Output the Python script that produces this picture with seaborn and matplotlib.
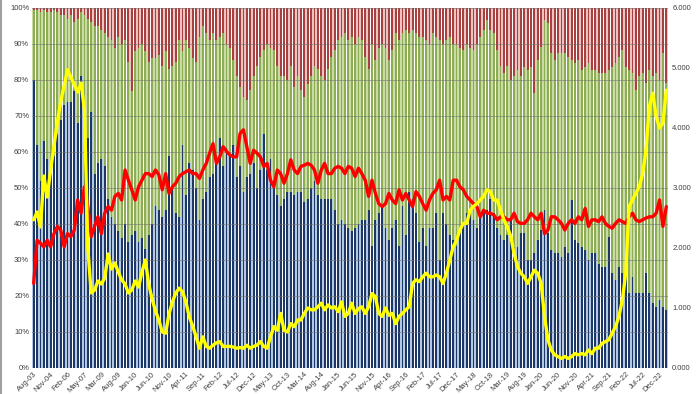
import numpy as np
import pandas as pd
import matplotlib
matplotlib.use("Agg")
import matplotlib.pyplot as plt
from matplotlib.lines import Line2D
import seaborn as sns

# ---------------- data ----------------
# share of the bottom (blue) segment, % of total
blue_pct = [80, 62, 52, 63, 58, 54, 59, 65, 69, 73, 74, 74, 77, 68, 81, 62, 64, 71, 54, 57,
            58, 56, 47, 42, 40, 38, 36, 40, 35, 37, 38, 35, 36, 33, 37, 40, 45, 44, 42, 44,
            59, 50, 43, 42, 62, 48, 57, 55,
            50, 41, 47, 49, 53, 54, 59, 64, 56, 61, 59, 62, 53, 56, 49, 53, 54, 57, 50, 55,
            65, 55, 58, 52, 48, 45, 47, 49, 49, 48, 49, 49, 46, 47, 50, 52, 48, 47, 47, 47,
            47, 44, 40, 41, 40, 39, 38, 39,
            40, 41, 41, 44, 34, 41, 43, 45, 39, 35.5, 39, 41, 34, 45, 37, 49, 47, 43, 35, 39,
            34, 39, 39, 43, 30, 43, 40, 37, 35.5, 34, 38, 40, 43, 43, 41, 39, 42, 43, 44, 47,
            43, 39, 37, 35.5, 37,
            41, 33.7, 33.7, 37.4, 37.4, 30, 30, 31.9, 35.5, 38.3, 43.9, 37.4, 32.8, 31.9, 31.9,
            30.9, 33.7, 31.9, 46.7, 35.5, 34.6, 33.7, 32.8, 30, 31.9, 31.9, 29, 28, 28, 36.5,
            26.3, 24.4, 28, 26.3, 28, 20.7, 25.4, 20.7, 20.7, 20.7, 26.3, 20.7, 18, 17, 18.9,
            17, 16]

# share of the top (red) segment, % of total
red_pct = [0.5, 0.5, 1, 0.5, 1, 1, 0.5, 1, 2, 2, 3, 2, 4, 3, 1, 2, 3, 4, 5, 5,
           6, 7, 8, 9, 11, 8, 10, 9, 15, 23, 12, 11, 10, 12, 15, 14, 14, 13, 16, 12,
           17, 16, 15, 9, 12, 9, 11, 14,
           15, 8, 5, 7, 9, 7, 9, 8, 7, 10, 11, 14.5, 19, 22, 24.6, 25.5, 22.8, 19, 16, 13.5,
           11.7, 10, 11, 11.7, 16, 19, 19, 20, 16, 22, 19, 22.8, 24.6, 21, 19, 16, 17, 19, 20, 17,
           13.5, 11.7, 9, 8, 7, 9, 8, 10,
           8, 9, 13.5, 17, 10, 14.5, 11, 10, 11, 14.5, 11.7, 7, 9, 7, 6, 7, 6, 7, 8, 8,
           9, 10, 7, 8, 9, 10, 9, 8, 10, 10, 11, 11.7, 10, 11, 11.7, 10, 8, 6, 3.3, 6,
           7, 11.7, 16, 18, 16,
           20, 19, 17.2, 19, 16.3, 17.2, 16.3, 23.7, 14.4, 10.7, 3.3, 4.3, 12.6, 14.4, 12.6,
           12.6, 12.6, 13.5, 14.4, 15.4, 14.4, 17.2, 16.3, 15.4, 17.2, 17.2, 18.1, 18.1, 18.1, 17.2,
           16.3, 15.4, 13.5, 11.7, 16.3, 17.2, 18.1, 22.8, 19, 18.1, 20.9, 17.2, 19, 18.1, 20,
           12.6, 20.9]

# yellow line (right axis)
yellow_line = [2.47, 2.6, 2.35, 3.2, 2.85, 3.3, 3.7, 4.1, 4.45, 4.7, 4.97, 4.85, 4.72, 4.6, 4.75,
               4.3, 2.0, 1.25, 1.3, 1.45, 1.4, 1.5, 1.9, 1.65, 1.75, 1.6, 1.47, 1.4, 1.25, 1.3,
               1.45, 1.35, 1.6, 1.8, 1.4, 1.15, 0.95, 0.8, 0.6, 0.58, 0.9, 1.1, 1.25, 1.33, 1.27,
               1.1, 0.85, 0.7,
               0.52, 0.33, 0.52, 0.36, 0.33, 0.38, 0.42, 0.44, 0.36, 0.36, 0.36, 0.35, 0.33, 0.34,
               0.33, 0.38, 0.33, 0.36, 0.38, 0.44, 0.36, 0.33, 0.52, 0.69, 0.63, 0.91, 0.63, 0.6,
               0.74, 0.69, 0.8, 0.8, 0.91, 1.0, 0.97, 0.97, 1.02, 1.08, 0.97, 1.05, 1.0, 1.02,
               0.94, 1.1, 0.86, 0.91, 1.08, 0.91,
               0.99, 1.02, 0.91, 1.02, 1.24, 1.19, 0.91, 0.86, 1.0, 0.88, 0.91, 0.74, 0.86, 0.91,
               0.97, 1.02, 1.41, 1.47, 1.44, 1.52, 1.58, 1.52, 1.52, 1.55, 1.52, 1.41, 1.58, 1.8,
               2.02, 2.13, 2.3, 2.41, 2.41, 2.63, 2.69, 2.74, 2.8, 2.86, 2.97, 2.94, 2.8, 2.8,
               2.63, 2.47, 2.35,
               2.2, 1.91, 1.69, 1.58, 1.52, 1.41, 1.52, 1.63, 1.58, 1.41, 0.86, 0.47, 0.3, 0.22,
               0.19, 0.16, 0.19, 0.16, 0.19, 0.24, 0.22, 0.24, 0.22, 0.3, 0.24, 0.33, 0.33, 0.41,
               0.44, 0.47, 0.58, 0.69, 0.86, 1.13, 1.58, 2.69, 2.8, 2.91, 3.02, 3.24, 3.63, 4.36,
               4.58, 4.19, 4.0, 4.08, 4.63]

# red line (right axis)
red_line = [1.41, 2.13, 2.08, 2.02, 2.13, 2.02, 2.24, 2.36, 2.3, 2.02, 2.24, 2.19, 2.3, 2.8, 2.58,
            3.02, 2.69, 2.19, 2.36, 2.52, 2.24, 2.58, 2.69, 2.63, 2.86, 2.91, 2.8, 3.3, 3.13, 2.97,
            2.8, 3.02, 3.13, 3.24, 3.24, 3.19, 3.3, 3.22, 2.97, 3.24, 2.91, 3.02, 3.08, 3.19, 3.24,
            3.27, 3.3, 3.24,
            3.24, 3.16, 3.3, 3.41, 3.58, 3.74, 3.41, 3.52, 3.69, 3.61, 3.55, 3.52, 3.52, 3.91, 3.97,
            3.69, 3.41, 3.63, 3.58, 3.52, 3.36, 3.41, 3.13, 3.02, 3.3, 3.24, 3.08, 3.24, 3.47, 3.3,
            3.24, 3.36, 3.38, 3.41, 3.38, 3.3, 3.08, 3.3, 3.41, 3.24, 3.24, 3.33, 3.36, 3.33, 3.24,
            3.36, 3.33, 3.19,
            3.33, 3.24, 3.13, 2.86, 3.13, 2.91, 2.74, 2.69, 2.74, 2.91, 2.8, 2.74, 2.97, 2.8, 2.91,
            2.8, 2.69, 2.94, 2.86, 2.74, 2.63, 2.8, 2.91, 2.97, 3.13, 2.8, 2.86, 2.8, 3.13, 3.13,
            3.02, 2.97, 2.86, 2.8, 2.74, 2.69, 2.52, 2.63, 2.58, 2.58, 2.55, 2.47, 2.52, 2.52, 2.47,
            2.47, 2.58, 2.44, 2.41, 2.41, 2.47, 2.58, 2.52, 2.47, 2.58, 2.24, 2.3, 2.52, 2.52, 2.47,
            2.41, 2.3, 2.41, 2.47, 2.41, 2.52, 2.47, 2.66, 2.36, 2.47, 2.47, 2.44, 2.52, 2.41, 2.36,
            2.33, 2.41, 2.47, 2.44, 2.41, 2.52, 2.58, 2.47, 2.44, 2.47, 2.5, 2.52, 2.52, 2.58, 2.8,
            2.36, 2.69]

tick_labels = ['Aug-03', 'Nov-04', 'Feb-06', 'May-07', 'Mar-09', 'Aug-09', 'Jan-10', 'Jun-10',
               'Nov-10', 'Apr-11', 'Sep-11', 'Feb-12', 'Jul-12', 'Dec-12', 'May-13', 'Oct-13',
               'Mar-14', 'Aug-14', 'Jan-15', 'Jun-15', 'Nov-15', 'Apr-16', 'Sep-16', 'Feb-17',
               'Jul-17', 'Dec-17', 'May-18', 'Oct-18', 'Mar-19', 'Aug-19', 'Jan-20', 'Jun-20',
               'Nov-20', 'Apr-21', 'Sep-21', 'Feb-22', 'Jul-22', 'Dec-22']
tick_every = 5

# ---------------- figure ----------------
sns.set_theme(style="white")
plt.rcParams['font.family'] = ['Liberation Sans', 'DejaVu Sans']

n = len(blue_pct)
idx = np.arange(n)
blue = np.array(blue_pct, dtype=float)
redseg = np.array(red_pct, dtype=float)
df = pd.DataFrame({
    "i": idx,
    "total": 100.0,
    "blue_green": 100.0 - redseg,
    "blue": blue,
    "yellow": yellow_line,
    "redline": red_line,
})

fig = plt.figure(figsize=(7.0, 3.94), dpi=100)
ax = fig.add_axes([32 / 700, 26 / 394, 636 / 700, 360 / 394])

layers = [
    ("total", "#EBC3C2", "#A8403F"),
    ("blue_green", "#CADBA6", "#8DAD55"),
    ("blue", "#B4C8E2", "#1D3766"),
]
for col, light, dark in layers:
    sns.barplot(data=df, x="i", y=col, color=light, width=0.86, saturation=1,
                errorbar=None, linewidth=0, ax=ax, zorder=2)
    sns.barplot(data=df, x="i", y=col, color=dark, width=0.55, saturation=1,
                errorbar=None, linewidth=0, ax=ax, zorder=2)

ax.set_ylim(0, 100)
ax.set_xlim(-0.5, n - 0.5)
ax.set_yticks(np.arange(0, 101, 10))
ax.set_yticklabels([f"{v}%" for v in range(0, 101, 10)])
for yv in range(10, 101, 10):
    ax.axhline(yv, color="#6f6f6f", lw=0.7, alpha=0.55, zorder=3)

ax.set_xticks(idx[::tick_every][:len(tick_labels)])
ax.set_xticklabels(tick_labels, rotation=45, ha="right", rotation_mode="anchor")
ax.set_xlabel("")
ax.set_ylabel("")
ax.tick_params(axis="both", length=0, labelsize=5.5, colors="#404040", pad=2)
for s in ax.spines.values():
    s.set_visible(False)

ax2 = ax.twinx()
sns.lineplot(data=df, x="i", y="redline", color="#FF0000", lw=2.4, ax=ax2, zorder=5)
sns.lineplot(data=df, x="i", y="yellow", color="#FFFF00", lw=2.4, ax=ax2, zorder=6)
ax2.set_ylim(0, 6)
ax2.set_yticks(np.arange(0, 7, 1))
ax2.set_yticklabels([f"{v:.3f}" for v in range(0, 7)])
ax2.set_ylabel("")
ax2.set_xlabel("")
ax2.tick_params(axis="y", length=0, labelsize=5.5, colors="#404040", pad=3)
for s in ax2.spines.values():
    s.set_visible(False)
ax2.grid(False)
ax.set_xlim(-0.5, n - 0.5)

fig.add_artist(Line2D([0.001, 0.001], [0, 1], transform=fig.transFigure,
                      color="#A0A0A0", lw=1.5))

fig.savefig("out.png", dpi=100)
